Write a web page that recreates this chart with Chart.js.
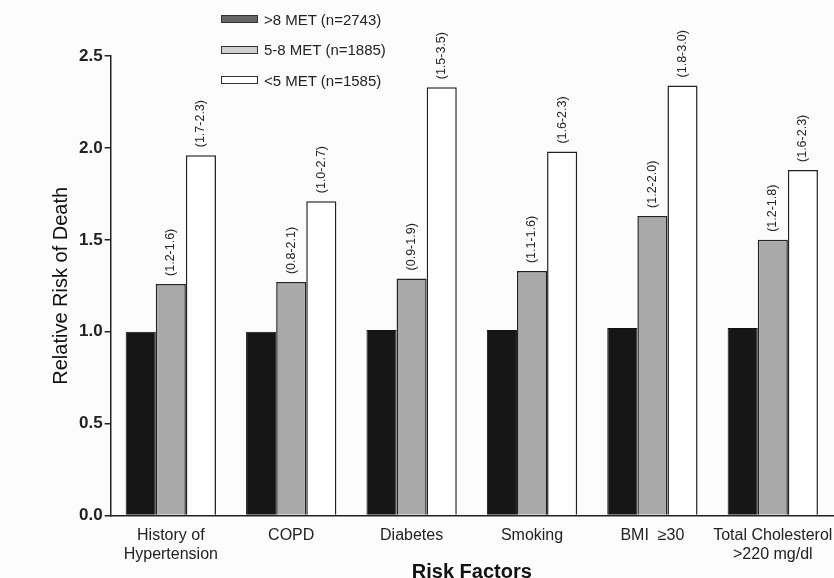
<!DOCTYPE html>
<html>
<head>
<meta charset="utf-8">
<script src="https://cdn.jsdelivr.net/npm/chart.js@4"></script>
<style>
  body { margin: 0; background: #fcfcfc; }
  #wrap { position: relative; width: 834px; height: 578px; }
  #legend { position: absolute; left: 221px; top: 4px; font-family: "Liberation Sans", Arial, sans-serif; font-size: 15px; color: #222; }
  .row { height: 30.5px; display: flex; align-items: center; }
  .sw { width: 35px; height: 6px; border: 1px solid #333; margin-right: 6px; }
</style>
</head>
<body>
<div id="wrap">
  <canvas id="chart" width="834" height="578"></canvas>
  <div id="legend"></div>
</div>
<script>
// risk factor categories
var factors = [["History of", "Hypertension"], "COPD", "Diabetes", "Smoking", "BMI  \u226530", ["Total Cholesterol", ">220 mg/dl"]];
var seriesNames = [">8 MET (n=2743)", "5-8 MET (n=1885)", "<5 MET (n=1585)"];

// relative risk of death
var riskHigh = [1.00, 1.00, 1.01, 1.01, 1.02, 1.02];
var riskMid = [1.26, 1.27, 1.29, 1.33, 1.63, 1.50];
var riskLow = [1.96, 1.71, 2.33, 1.98, 2.34, 1.88];

// confidence intervals printed above the bars
var ciMid = ["(1.2-1.6)", "(0.8-2.1)", "(0.9-1.9)", "(1.1-1.6)", "(1.2-2.0)", "(1.2-1.8)"];
var ciLow = ["(1.7-2.3)", "(1.0-2.7)", "(1.5-3.5)", "(1.6-2.3)", "(1.8-3.0)", "(1.6-2.3)"];

var yTicks = [0, 0.5, 1.0, 1.5, 2.0, 2.5];

var fills = ["#161616", "#a9a9a9", "#ffffff"];
var swatches = ["#666666", "#cfcfcf", "#ffffff"];

var legend = document.getElementById("legend");
for (var i = 0; i < seriesNames.length; i++) {
    var row = document.createElement("div");
    row.className = "row";
    var sw = document.createElement("span");
    sw.className = "sw";
    sw.style.background = swatches[i];
    var txt = document.createElement("span");
    txt.textContent = seriesNames[i];
    row.appendChild(sw);
    row.appendChild(txt);
    legend.appendChild(row);
}

/* rotated CI labels above the gray and white bars */
var ciPlugin = {
    id: "ciLabels",
    afterDatasetsDraw: function(chart) {
        var ctx = chart.ctx;
        var sets = [[1, ciMid], [2, ciLow]];
        ctx.save();
        ctx.font = "12.5px 'Liberation Sans', Arial, sans-serif";
        ctx.fillStyle = "#222";
        ctx.textAlign = "left";
        ctx.textBaseline = "middle";
        sets.forEach(function(s) {
            var meta = chart.getDatasetMeta(s[0]);
            meta.data.forEach(function(bar, j) {
                ctx.save();
                ctx.translate(bar.x, bar.y - 8);
                ctx.rotate(-Math.PI / 2);
                ctx.fillText(s[1][j], 0, 0);
                ctx.restore();
            });
        });
        ctx.restore();
    }
};

var ctx0 = document.getElementById("chart");
var myChart = new Chart(ctx0, {
    type: "bar",
    data: {
        labels: factors,
        datasets: [
            { label: seriesNames[0], data: riskHigh, backgroundColor: fills[0], borderColor: "#111", borderWidth: 1 },
            { label: seriesNames[1], data: riskMid, backgroundColor: fills[1], borderColor: "#222", borderWidth: 1.5 },
            { label: seriesNames[2], data: riskLow, backgroundColor: fills[2], borderColor: "#222", borderWidth: 1.5 }
        ]
    },
    options: {
        responsive: false,
        animation: false,
        layout: { padding: { top: 56, right: 1, left: 49, bottom: -6 } },
        plugins: { legend: { display: false }, tooltip: { enabled: false } },
        datasets: { bar: { categoryPercentage: 0.75, barPercentage: 1.0 } },
        scales: {
            x: {
                // transparent tick marks only to push labels down
                grid: { display: true, drawOnChartArea: false, drawTicks: true, tickLength: 10, tickColor: "rgba(0,0,0,0)" },
                border: { color: "#222", width: 1.5 },
                ticks: {
                    color: "#222",
                    font: { family: "'Liberation Sans', Arial, sans-serif", size: 16 },
                    maxRotation: 0, autoSkip: false, padding: 0
                },
                title: {
                    display: true, text: "Risk Factors", color: "#111",
                    font: { family: "'Liberation Sans', Arial, sans-serif", size: 20, weight: "bold" },
                    padding: { top: -4, bottom: 0 }
                }
            },
            y: {
                min: 0, max: 2.5,
                afterBuildTicks: function(axis) {
                    axis.ticks = yTicks.map(function(v) { return { value: v }; });
                },
                grid: { drawOnChartArea: false, drawTicks: true, tickLength: 6, color: "#222", lineWidth: 1.5 },
                border: { color: "#222", width: 1.5 },
                ticks: {
                    color: "#222", padding: 2,
                    font: { family: "'Liberation Sans', Arial, sans-serif", size: 17, weight: "bold" },
                    callback: function(v) { return Number(v).toFixed(1); }
                },
                title: {
                    display: true, text: "Relative Risk of Death", color: "#111",
                    font: { family: "'Liberation Sans', Arial, sans-serif", size: 20 },
                    padding: { top: 0, bottom: 4 }
                }
            }
        }
    },
    plugins: [ciPlugin]
});
</script>
</body>
</html>
